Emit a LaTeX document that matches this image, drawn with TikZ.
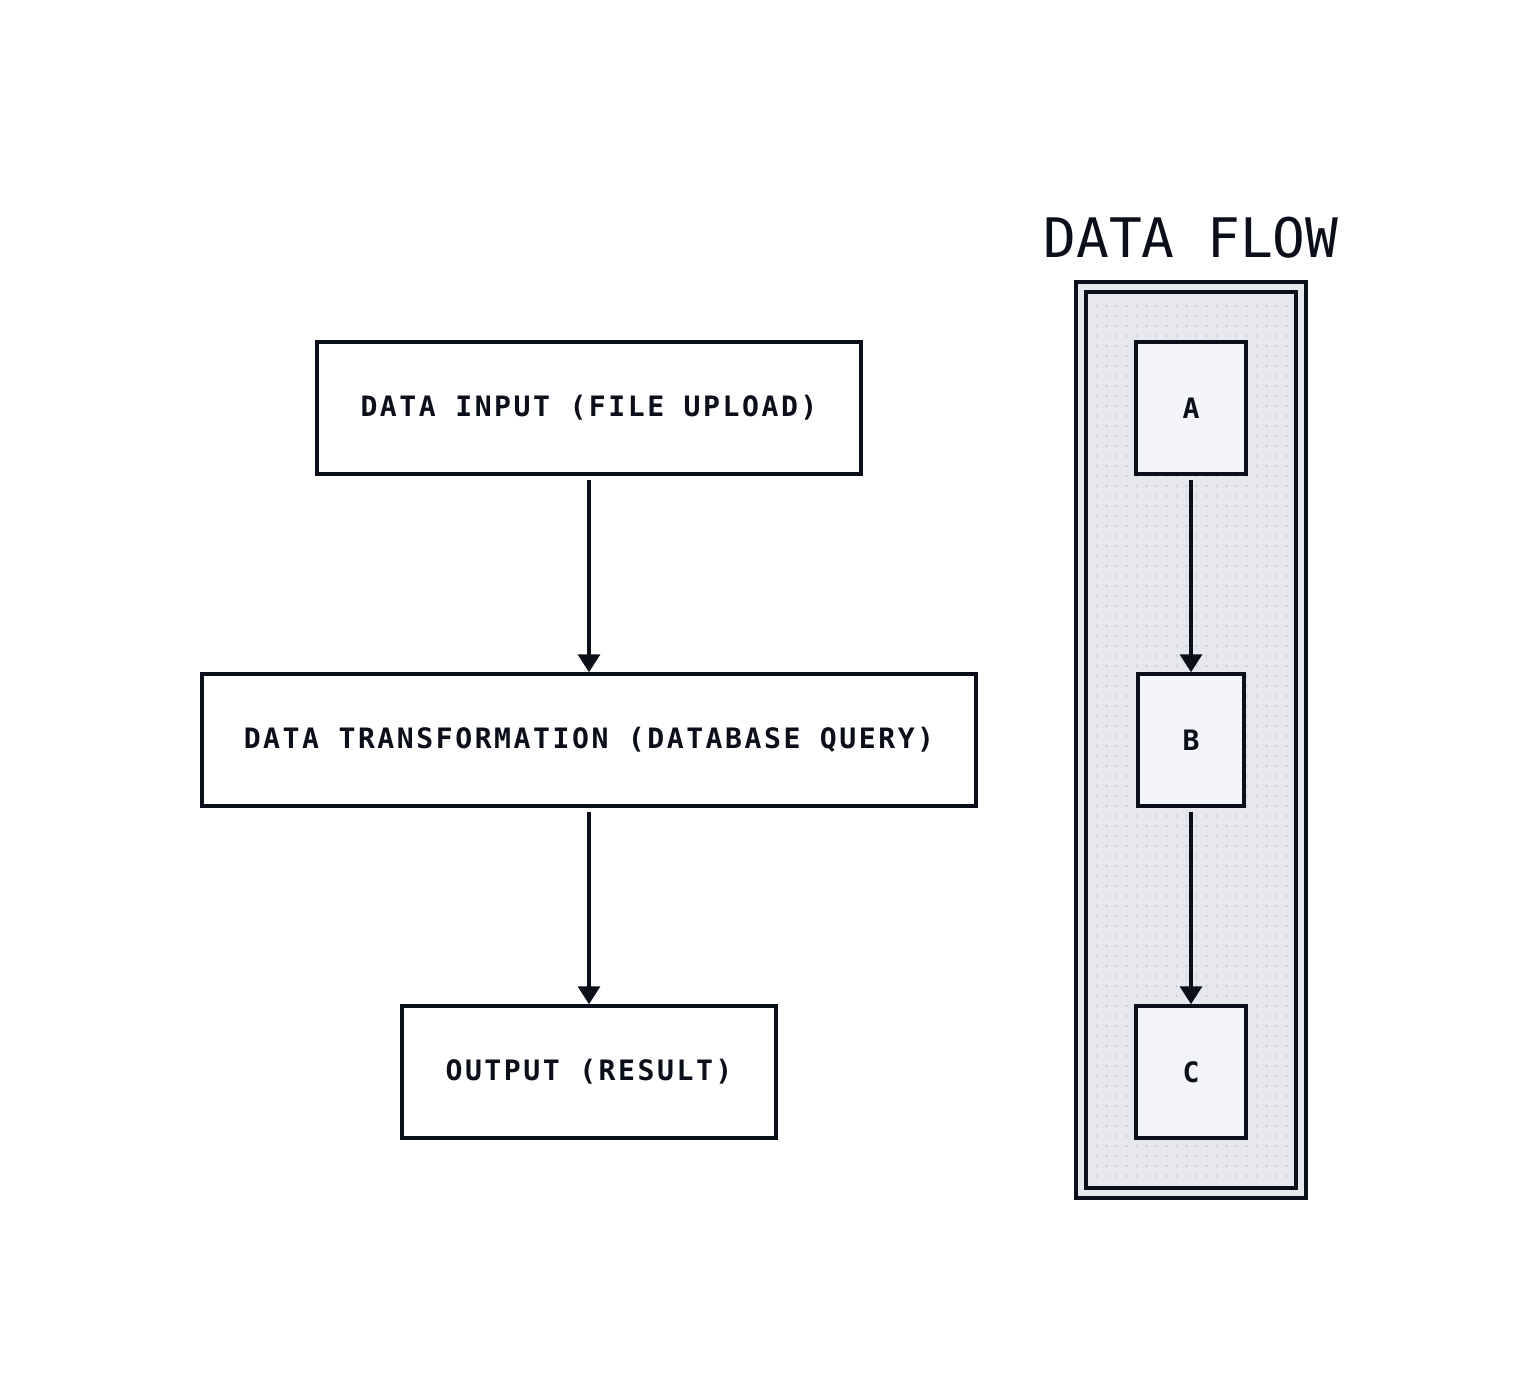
\documentclass[tikz,border=0pt]{standalone}
\usepackage{fontspec}
\usepackage{tikz}
\usetikzlibrary{arrows.meta, positioning}
\newfontfamily\monobold[LetterSpace=9]{DejaVu Sans Mono Bold}
\newfontfamily\monoreg{DejaVu Sans Mono}
\definecolor{ink}{HTML}{0B0F19}
\definecolor{panelgray}{HTML}{E6E8EE}
\definecolor{boxgray}{HTML}{F4F5F9}
\definecolor{dotgray}{HTML}{C4C8D1}
\tikzset{
  flowbox/.style={rectangle, draw=ink, line width=2pt, fill=white,
                  minimum height=2.64cm, inner sep=0pt,
                  font=\monobold\fontsize{16}{18}\selectfont, text=ink},
  letterbox/.style={flowbox, fill=boxgray, minimum width=2.2cm},
  flowarrow/.style={draw=ink, line width=2pt,
                    -{Triangle[width=0.44cm, length=0.36cm]}, shorten <=0.08cm}
}

\begin{document}
\begin{tikzpicture}
          \useasboundingbox (0,0) rectangle (30.8,-28);
          % left flow
          \node[flowbox, minimum width=10.88cm](in) at (11.78,-8.16){DATA INPUT (FILE UPLOAD)};
          \node[flowbox, minimum width=15.48cm](tr) at (11.78,-14.8){DATA TRANSFORMATION (DATABASE QUERY)};
          \node[flowbox, minimum width=7.48cm](out) at (11.78,-21.44){OUTPUT (RESULT)};
          \draw[flowarrow](in.south)--(tr.north);
          \draw[flowarrow](tr.south)--(out.north);
          % data flow panel
          \node[font=\monoreg\fontsize{31}{36}\selectfont, text=ink](title) at (23.82,-4.76){DATA FLOW};
          \draw[ink, line width=2pt, fill=panelgray](21.52,-5.64) rectangle (26.12,-23.96);
          \draw[ink, line width=2pt](21.72,-5.84) rectangle (25.92,-23.76);
          \foreach \i in {0,...,19}
            \foreach \j in {0,...,87}
              \fill[dotgray] (21.93+0.2*\i,-6.12-0.2*\j) circle (0.022);
          \node[letterbox](a) at (23.82,-8.16){A};
          \node[letterbox, minimum width=2.12cm](b) at (23.82,-14.8){B};
          \node[letterbox](c) at (23.82,-21.44){C};
          \draw[flowarrow](a.south)--(b.north);
          \draw[flowarrow](b.south)--(c.north);
        \end{tikzpicture}
\end{document}
